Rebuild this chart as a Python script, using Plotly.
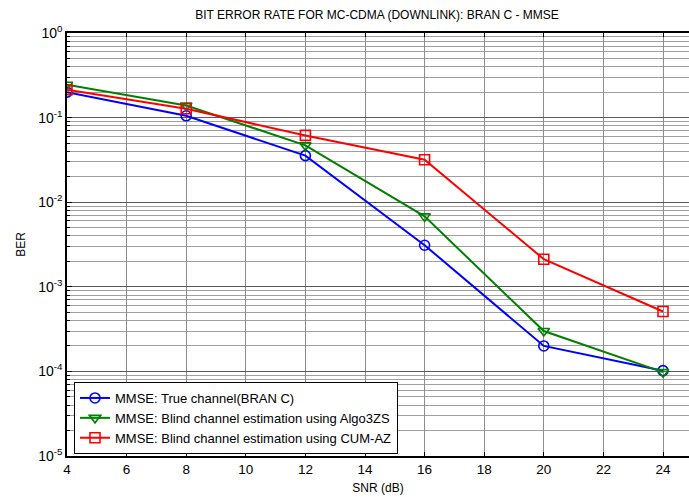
import plotly.graph_objects as go

snr = [4, 8, 12, 16, 20, 24]
ber_true = [0.20, 0.105, 0.0355, 0.0031, 2.0e-4, 1.02e-4]
ber_algo3zs = [0.245, 0.139, 0.047, 0.0068, 3.0e-4, 9.8e-5]
ber_cumaz = [0.213, 0.127, 0.0616, 0.0318, 0.00212, 5.1e-4]

names = [
    "MMSE: True channel(BRAN C)",
    "MMSE: Blind channel estimation using Algo3ZS",
    "MMSE: Blind channel estimation using CUM-AZ",
]
colors = ["#0000FF", "#008000", "#FF0000"]
symbols = ["circle-open", "triangle-down-open", "square-open"]
series = [ber_true, ber_algo3zs, ber_cumaz]

xticks = [4, 6, 8, 10, 12, 14, 16, 18, 20, 22, 24]
yticks = [1e-5, 1e-4, 1e-3, 1e-2, 1e-1, 1e0]
ytick_labels = ["10<sup>-5</sup>", "10<sup>-4</sup>", "10<sup>-3</sup>",
                "10<sup>-2</sup>", "10<sup>-1</sup>", "10<sup>0</sup>"]

FONT = "Liberation Sans, Arial, Helvetica, sans-serif"

fig = go.Figure()
for name, col, sym, ys in zip(names, colors, symbols, series):
    fig.add_trace(go.Scatter(
        x=snr, y=ys, name=name, mode="lines+markers",
        line=dict(color=col, width=2),
        marker=dict(symbol=sym, size=10, color=col, line=dict(width=1.6, color=col)),
    ))

W, H = 689, 497
L, R, T, B = 67, 0, 33, 41
pw = W - L - R
ph = H - T - B
xmax = 4 + (W - 67) / 29.8

fig.update_layout(
    width=W, height=H,
    margin=dict(l=L, r=R, t=T, b=B, pad=0),
    paper_bgcolor="white", plot_bgcolor="white",
    font=dict(family=FONT, size=12, color="black"),
    title=dict(text="BIT ERROR RATE FOR MC-CDMA (DOWNLINK): BRAN C - MMSE",
               x=(377) / W, xanchor="center", y=1 - 15 / H, yanchor="middle",
               font=dict(size=12, family=FONT)),
    showlegend=True,
    legend=dict(
        x=(74 - L) / pw, xanchor="left",
        y=(456 - 382) / ph, yanchor="top",
        bgcolor="white", bordercolor="black", borderwidth=1,
        font=dict(size=13, family=FONT),
        tracegroupgap=0,
    ),
)

fig.update_xaxes(
    range=[4, xmax], tickvals=xticks, ticktext=[str(v) for v in xticks],
    showgrid=True, gridcolor="#8c8c8c", gridwidth=1,
    ticks="inside", ticklen=4, tickcolor="black",
    showline=True, linecolor="black", linewidth=1.5, mirror="ticks",
    zeroline=False,
    title=dict(text="SNR (dB)", font=dict(size=12, family=FONT), standoff=8),
    tickfont=dict(size=13.5, family=FONT),
)

fig.update_yaxes(
    type="log", range=[-5, 0], tickvals=yticks, ticktext=ytick_labels,
    showgrid=True, gridcolor="#5a5a5a", gridwidth=1,
    ticks="inside", ticklen=5, tickcolor="black",
    minor=dict(dtick="D1", showgrid=True, gridcolor="#a0a0a0", gridwidth=1,
               ticks="inside", ticklen=3, tickcolor="black"),
    showline=True, linecolor="black", linewidth=1.5, mirror=False,
    zeroline=False,
    title=dict(text="BER", font=dict(size=12, family=FONT), standoff=10),
    tickfont=dict(size=14, family=FONT),
)

fig.write_html("out.html")
